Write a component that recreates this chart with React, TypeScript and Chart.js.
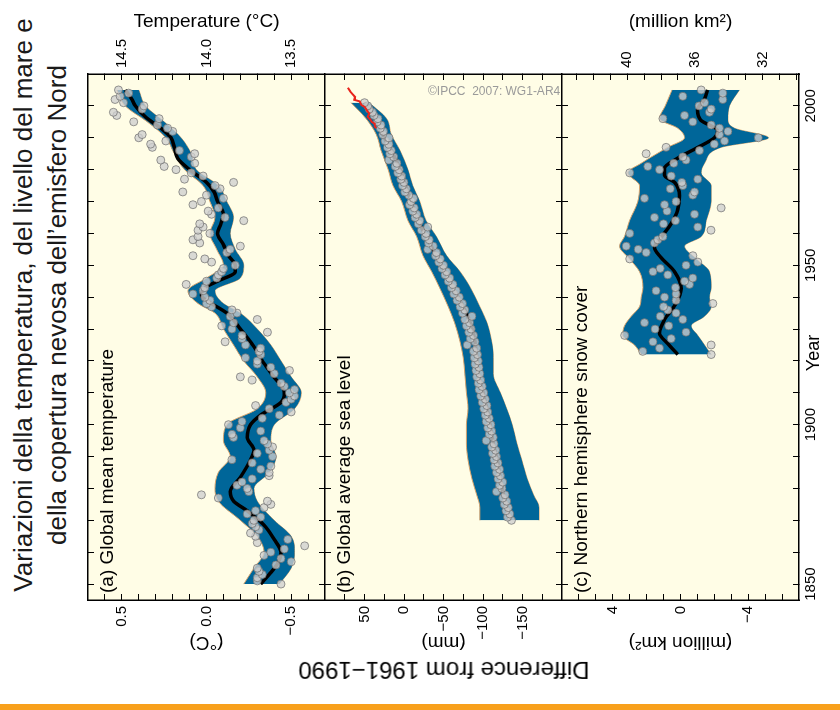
import React, { useEffect, useRef } from "react";
import { Chart, registerables } from "chart.js";

Chart.register(...registerables);

const FONT = '"Liberation Sans", Arial, Helvetica, sans-serif';

// ---------- shared year axis ----------
const yearMin = 1845;
const yearMax = 2010;
const yearTicks = [1850, 1860, 1870, 1880, 1890, 1900, 1910, 1920, 1930, 1940, 1950, 1960, 1970, 1980, 1990, 2000];
const yearLabels = [1850, 1900, 1950, 2000];

// ---------- (a) global mean temperature, anomaly in °C ----------
const tempFirstYear = 1850;
const tempAnomaly = [
  -0.44, -0.30, -0.30, -0.33, -0.31, -0.30, -0.41, -0.50, -0.44, -0.34,
  -0.38, -0.46, -0.58, -0.30, -0.48, -0.29, -0.26, -0.31, -0.29, -0.27,
  -0.28, -0.32, -0.24, -0.29, -0.34, -0.38, -0.36, -0.07, 0.03, -0.25,
  -0.24, -0.18, -0.21, -0.27, -0.37, -0.37, -0.32, -0.38, -0.27, -0.15,
  -0.39, -0.30, -0.37, -0.39, -0.36, -0.34, -0.16, -0.15, -0.32, -0.20,
  -0.13, -0.21, -0.33, -0.43, -0.50, -0.37, -0.29, -0.47, -0.50, -0.52,
  -0.49, -0.52, -0.46, -0.44, -0.27, -0.20, -0.40, -0.49, -0.38, -0.30,
  -0.30, -0.23, -0.32, -0.31, -0.32, -0.23, -0.11, -0.21, -0.21, -0.36,
  -0.15, -0.09, -0.16, -0.30, -0.14, -0.18, -0.15, -0.03, 0.00, -0.02,
  0.01, 0.08, 0.02, 0.01, 0.12, 0.00, -0.06, -0.07, -0.09, -0.10,
  -0.17, -0.03, 0.01, 0.08, -0.12, -0.14, -0.20, 0.04, 0.08, 0.05,
  -0.02, 0.05, 0.02, 0.04, -0.22, -0.11, -0.03, -0.01, -0.07, 0.08,
  0.03, -0.10, 0.00, 0.14, -0.08, -0.05, -0.16, 0.13, 0.02, 0.09,
  0.18, 0.25, 0.07, 0.27, 0.09, 0.07, 0.16, 0.32, 0.33, 0.24,
  0.40, 0.38, 0.20, 0.23, 0.29, 0.43, 0.28, 0.53, 0.55, 0.38,
  0.37, 0.49, 0.54, 0.51, 0.46, 0.52,
];
const tempSmoothYears = [1850, 1853, 1856.5, 1860, 1864, 1868.5, 1873, 1876, 1879, 1883.5, 1889, 1892, 1896, 1900, 1903, 1907, 1910, 1915.5, 1920, 1924.5, 1930, 1935, 1938.5, 1940.5, 1943, 1945, 1948, 1950, 1953, 1956.5, 1960, 1963, 1966, 1970, 1973, 1976, 1980, 1983.5, 1987, 1990, 1993, 1996.5, 2000, 2002, 2005];
const tempSmooth = [-0.32, -0.37, -0.42, -0.44, -0.40, -0.34, -0.24, -0.16, -0.14, -0.20, -0.26, -0.28, -0.24, -0.26, -0.32, -0.44, -0.46, -0.39, -0.33, -0.28, -0.20, -0.12, -0.015, 0.03, 0.01, -0.065, -0.17, -0.17, -0.13, -0.10, -0.065, -0.085, -0.10, -0.065, -0.045, 0.0, 0.10, 0.17, 0.19, 0.21, 0.27, 0.36, 0.42, 0.44, 0.48];
const tempBandYears = [1850, 1855, 1860, 1865, 1870, 1876, 1880, 1885, 1890, 1895, 1900, 1905, 1910, 1915, 1920, 1925, 1930, 1935, 1938, 1942, 1946, 1950, 1955, 1960, 1965, 1970, 1975, 1980, 1985, 1990, 1995, 2000, 2005];
const tempBandHigh = [-0.22, -0.28, -0.34, -0.30, -0.20, -0.07, -0.05, -0.07, -0.14, -0.10, -0.12, -0.30, -0.35, -0.30, -0.22, -0.16, -0.10, -0.05, 0.05, 0.11, 0.00, -0.10, -0.06, -0.02, -0.05, -0.02, 0.02, 0.13, 0.19, 0.24, 0.35, 0.48, 0.53];
const tempBandLow = [-0.43, -0.50, -0.52, -0.50, -0.40, -0.30, -0.28, -0.37, -0.41, -0.38, -0.40, -0.52, -0.56, -0.50, -0.44, -0.38, -0.30, -0.20, -0.10, -0.05, -0.20, -0.22, -0.17, -0.14, -0.16, -0.12, -0.07, 0.06, 0.09, 0.15, 0.25, 0.36, 0.40];
const tempTicks = [-0.6, -0.5, -0.4, -0.3, -0.2, -0.1, 0, 0.1, 0.2, 0.3, 0.4, 0.5, 0.6];
const tempTickLabels = [-0.5, 0, 0.5];
const absTempTicks = [13.4, 13.5, 13.6, 13.7, 13.8, 13.9, 14.0, 14.1, 14.2, 14.3, 14.4, 14.5, 14.6];
const absTempTickLabels = [13.5, 14.0, 14.5];

// ---------- (b) global average sea level, mm ----------
const seaFirstYear = 1870;
const seaLevel = [
  -136, -131, -134, -129, -132, -127, -130, -125, -128, -117,
  -124, -121, -125, -119, -122, -117, -121, -115, -119, -114,
  -117, -112, -116, -111, -114, -104, -113, -108, -111, -106,
  -110, -104, -108, -103, -106, -101, -105, -99, -103, -97,
  -101, -95, -99, -94, -97, -92, -96, -91, -95, -90,
  -94, -89, -93, -88, -92, -80, -90, -84, -88, -82,
  -85, -79, -83, -77, -86, -74, -77, -71, -74, -67,
  -70, -63, -66, -60, -62, -56, -58, -52, -54, -48,
  -50, -44, -46, -40, -41, -30, -37, -31, -32, -27,
  -28, -22, -30, -18, -20, -14, -16, -11, -13, -7,
  -9, -12, -6, -1, -3, 2, 0, 4, 3, 8,
  6, 11, 9, 19, 13, 18, 16, 21, 19, 24,
  19, 27, 26, 30, 29, 34, 33, 38, 40, 44,
  46, 50,
];
const seaSmoothYears = [1870, 1874, 1878, 1883, 1889, 1894, 1900, 1905, 1910, 1916, 1921, 1926, 1932, 1937, 1943, 1948, 1953, 1959, 1964, 1970, 1975, 1980, 1986, 1990, 1995, 2001];
const seaSmooth = [-134, -130, -126, -122, -118, -113, -109, -105, -100, -94, -92, -90, -84, -75, -62, -52, -41, -28, -18, -9, -2, 5, 16, 25, 33, 50];
const seaBandYears = [1870, 1874, 1878, 1883, 1889, 1894, 1900, 1905, 1910, 1916, 1921, 1926, 1932, 1937, 1943, 1948, 1953, 1959, 1964, 1970, 1975, 1980, 1986, 1991, 1996, 2001];
const seaBandHigh = [-96, -96, -92, -86, -81, -79, -79, -81, -79, -77, -75, -71, -64, -56, -45, -35, -24, -16, -5, 3, 14, 20, 29, 35, 48, 67];
const seaBandLow = [-171, -171, -164, -156, -149, -143, -137, -130, -122, -113, -113, -111, -105, -96, -84, -71, -54, -41, -28, -20, -11, -5, 5, 16, 22, 44];
const satYears = [1993, 1993.5, 1994.4, 1995, 1995.5, 1996.6, 1997.6, 1998.2, 1999, 1999.7, 2000.3, 2001.4, 2001.9, 2002.8, 2003.6, 2004.5, 2005.7];
const satLevel = [35, 37, 37, 41, 42, 46, 44, 46, 48, 50, 54, 56, 63, 62, 65, 68, 71];
const seaTicks = [-175, -150, -125, -100, -75, -50, -25, 0, 25, 50, 75];
const seaTickLabels = [-150, -100, -50, 0, 50];

// ---------- (c) northern hemisphere snow cover, million km² ----------
const snowFirstYear = 1922;
const snowCover = [
  -1.81, 2.23, 1.24, -1.81, 1.63, 0.55, 3.30, -0.33, 1.50, 0.70,
  2.13, -0.14, 1.20, 0.26, 0.75, 1.00, -1.91, 0.26, 0.94, 0.26,
  1.44, 0.30, -0.53, -0.24, -0.73, 0.75, 1.63, 1.20, -0.33, -1.02,
  3.00, -0.73, 2.03, 2.50, 3.21, 1.54, 1.34, 1.04, 3.00, -1.80,
  -1.02, 1.00, 0.30, 1.54, -0.83, 0.80, -2.40, 0.94, 0.26, 2.13,
  -0.73, -0.83, 0.60, -0.14, -0.08, -1.02, 0.55, 3.00, 1.24, 1.93,
  0.40, -0.33, -0.14, 2.03, -1.12, 0.85, -2.00, -2.60, -4.60, -2.30,
  -2.80, -2.30, -1.81, -0.73, 1.04, -0.24, -1.71, -1.81, -1.10, -1.42,
  -2.50, -0.14, -2.50, -1.22,
];
const snowSmoothYears = [1922, 1925.4, 1928.7, 1933, 1937.3, 1942.7, 1948, 1952.4, 1955.6, 1958.8, 1963.1, 1967.5, 1971.8, 1976, 1978.2, 1980.4, 1983.6, 1986.9, 1990, 1992.2, 1995.5, 1998.7, 2002, 2005];
const snowSmooth = [0.16, 0.75, 1.24, 0.94, 0.35, -0.04, 0.35, 1.14, 1.54, 1.14, 0.55, 0.16, 0.06, 0.35, 0.94, 0.94, 0.16, -1.0, -2.0, -2.2, -1.2, -1.0, -1.4, -1.6];
const snowBandYears = [1922, 1925, 1928, 1931, 1934, 1937, 1940, 1943, 1948, 1952, 1956, 1959, 1964, 1970, 1975, 1979, 1982, 1987, 1990, 1993, 1996, 2000, 2005];
const snowBandHigh = [2.32, 2.72, 3.41, 3.31, 2.91, 2.42, 2.32, 2.22, 2.42, 3.01, 3.60, 3.31, 3.01, 2.52, 2.42, 3.11, 2.32, 0.75, -0.24, 0.16, 1.24, 0.90, 0.50];
const snowBandLow = [-1.81, -1.42, -1.02, -0.63, -1.42, -1.81, -1.71, -1.81, -1.71, -0.93, -0.24, -1.22, -1.52, -1.81, -1.81, -1.22, -1.42, -2.40, -5.20, -3.19, -2.80, -2.89, -3.48];
const snowTicks = [-6, -5, -4, -3, -2, -1, 0, 1, 2, 3, 4, 5, 6];
const snowTickLabels = [-4, 0, 4];
const snowAbsTicks = [30, 31, 32, 33, 34, 35, 36, 37, 38, 39, 40, 41, 42, 43];
const snowAbsTickLabels = [32, 36, 40];

// ---------- styling ----------
const PLOT_BG = "#FFFDE6";
const BAND = "#006699";
const BAND_EDGE = "rgba(214,160,104,0.95)";
const DOT_FILL = "rgba(206,206,206,0.78)";
const DOT_EDGE = "rgba(105,105,105,0.85)";

const minus = (s: string) => s.replace("-", "\u2212");
const pts = (xs: number[], ys: number[]) => xs.map((x, i) => ({ x, y: ys[i] }));
const annual = (first: number, ys: number[]) => ys.map((y, i) => ({ x: first + i, y }));

const plotBackground = {
  id: "plotBackground",
  beforeDraw(chart: any) {
    const { ctx, chartArea } = chart;
    ctx.save();
    ctx.fillStyle = PLOT_BG;
    ctx.fillRect(chartArea.left, chartArea.top, chartArea.right - chartArea.left, chartArea.bottom - chartArea.top);
    ctx.restore();
  },
};

const panelLabel = {
  id: "panelLabel",
  afterDraw(chart: any, _args: any, opts: any) {
    const { ctx, chartArea } = chart;
    ctx.save();
    ctx.font = `19px ${FONT}`;
    ctx.fillStyle = "#000";
    ctx.textBaseline = "alphabetic";
    ctx.textAlign = "left";
    ctx.fillText(opts.text, chartArea.left + 7, chartArea.top + 25);
    ctx.restore();
  },
};

function panelDatasets(
  first: number, values: number[],
  smoothX: number[], smoothY: number[],
  bandX: number[], bandHi: number[], bandLo: number[],
  extra?: any
) {
  const sets: any[] = [];
  if (extra) sets.push(extra);
  sets.push({
    data: annual(first, values), showLine: false,
    pointRadius: 4, pointBackgroundColor: DOT_FILL, pointBorderColor: DOT_EDGE, pointBorderWidth: 0.8,
  });
  sets.push({
    data: pts(smoothX, smoothY), showLine: true, borderColor: "#000", borderWidth: 3.5,
    pointRadius: 0, cubicInterpolationMode: "monotone", fill: false,
  });
  sets.push({
    data: pts(bandX, bandHi), showLine: true, borderColor: BAND_EDGE, borderWidth: 1,
    backgroundColor: BAND, fill: "+1", pointRadius: 0, cubicInterpolationMode: "monotone",
  });
  sets.push({
    data: pts(bandX, bandLo), showLine: true, borderColor: BAND_EDGE, borderWidth: 1,
    pointRadius: 0, cubicInterpolationMode: "monotone", fill: false,
  });
  return sets;
}

interface AxisSpec {
  min: number; max: number; ticks: number[]; labels: number[];
  fmt: (v: number) => string; title?: string;
}
interface PanelSpec {
  topH: number; bottomH: number; showYears: boolean; label: string;
  left: AxisSpec; right: AxisSpec; datasets: any[];
}

function makeConfig(spec: PanelSpec): any {
  const grid = { drawOnChartArea: false, drawTicks: true, tickLength: -6, color: "#000", lineWidth: 1 };
  const border = { display: true, color: "#000", width: 1.5 };
  const tickFont = { family: FONT, size: 15 };
  const titleFont = { family: FONT, size: 19 };
  const zeroPad = (s: any) => { s.paddingLeft = 0; s.paddingRight = 0; s.paddingTop = 0; s.paddingBottom = 0; };
  const setTicks = (vals: number[]) => (s: any) => { s.ticks = vals.map((value) => ({ value })); };
  const pick = (a: AxisSpec) => (v: number) => (a.labels.some((l) => Math.abs(l - v) < 1e-6) ? a.fmt(v) : "");
  const yearAxis = (position: string, size: number, show: boolean) => ({
    type: "linear", position, min: yearMin, max: yearMax,
    afterBuildTicks: setTicks(yearTicks),
    afterFit: (s: any) => { s.height = size; zeroPad(s); },
    grid, border,
    ticks: {
      display: show, padding: 9, maxRotation: 0, minRotation: 0, autoSkip: false,
      font: tickFont, color: "#000",
      callback: (v: number) => (yearLabels.includes(v) ? String(v) : ""),
    },
  });
  const valueAxis = (position: string, a: AxisSpec, width: number) => ({
    type: "linear", position, min: a.min, max: a.max,
    afterBuildTicks: setTicks(a.ticks),
    afterFit: (s: any) => { s.width = width; zeroPad(s); },
    grid, border,
    ticks: { padding: 12, autoSkip: false, font: tickFont, color: "#000", callback: pick(a) },
    title: a.title
      ? {
          display: true, text: a.title, font: titleFont, color: "#000",
          padding: position === "left" ? { top: 56, bottom: 0 } : { top: 10.6, bottom: 0 },
        }
      : { display: false },
  });
  return {
    type: "scatter",
    data: { datasets: spec.datasets },
    options: {
      responsive: false,
      animation: false,
      events: [],
      layout: { padding: 0, autoPadding: false },
      plugins: {
        legend: { display: false },
        tooltip: { enabled: false },
        panelLabel: { text: spec.label },
      },
      scales: {
        x: yearAxis("bottom", spec.bottomH, spec.showYears),
        x2: yearAxis("top", spec.topH, false),
        y: valueAxis("left", spec.left, 110),
        y2: valueAxis("right", spec.right, 74),
      },
    },
    plugins: [plotBackground, panelLabel],
  };
}

const panelA: PanelSpec = {
  topH: 88, bottomH: 0, showYears: false, label: "(a) Global mean temperature",
  left: { min: -0.7, max: 0.7, ticks: tempTicks, labels: tempTickLabels, fmt: (v) => minus(v.toFixed(1)), title: "(\u00B0C)" },
  right: { min: 13.3, max: 14.7, ticks: absTempTicks, labels: absTempTickLabels, fmt: (v) => v.toFixed(1), title: "Temperature (\u00B0C)" },
  datasets: panelDatasets(tempFirstYear, tempAnomaly, tempSmoothYears, tempSmooth, tempBandYears, tempBandHigh, tempBandLow),
};

const panelB: PanelSpec = {
  topH: 0, bottomH: 0, showYears: false, label: "(b) Global average sea level",
  left: { min: -200, max: 100, ticks: seaTicks, labels: seaTickLabels, fmt: (v) => minus(String(v)), title: "(mm)" },
  right: { min: -200, max: 100, ticks: seaTicks, labels: [], fmt: (v) => String(v) },
  datasets: panelDatasets(seaFirstYear, seaLevel, seaSmoothYears, seaSmooth, seaBandYears, seaBandHigh, seaBandLow, {
    data: pts(satYears, satLevel), showLine: true, borderColor: "#E8241C", borderWidth: 2, pointRadius: 0, fill: false,
  }),
};

const panelC: PanelSpec = {
  topH: 0, bottomH: 41, showYears: true, label: "(c) Northern hemisphere snow cover",
  left: { min: -7, max: 7, ticks: snowTicks, labels: snowTickLabels, fmt: (v) => minus(String(v)), title: "(million km\u00B2)" },
  right: { min: 29.85, max: 43.85, ticks: snowAbsTicks, labels: snowAbsTickLabels, fmt: (v) => String(v), title: "(million km\u00B2)" },
  datasets: panelDatasets(snowFirstYear, snowCover, snowSmoothYears, snowSmooth, snowBandYears, snowBandHigh, snowBandLow),
};

export default function App() {
  const aRef = useRef<HTMLCanvasElement>(null);
  const bRef = useRef<HTMLCanvasElement>(null);
  const cRef = useRef<HTMLCanvasElement>(null);

  useEffect(() => {
    Chart.defaults.font.family = FONT;
    const charts = [
      new Chart(aRef.current as HTMLCanvasElement, makeConfig(panelA)),
      new Chart(bRef.current as HTMLCanvasElement, makeConfig(panelB)),
      new Chart(cRef.current as HTMLCanvasElement, makeConfig(panelC)),
    ];
    return () => charts.forEach((c) => c.destroy());
  }, []);

  const canvasStyle = (top: number): React.CSSProperties => ({ position: "absolute", left: 0, top, display: "block" });

  return (
    <div style={{ position: "absolute", left: 0, top: 0, width: 840, height: 710, overflow: "hidden", background: "#fff", fontFamily: FONT, color: "#000" }}>
      {/* figure laid out upright, then turned a quarter turn counter-clockwise */}
      <div style={{ position: "absolute", left: 65, top: -65, width: 710, height: 840, transform: "rotate(-90deg)" }}>
        <div style={{ position: "absolute", left: 55, top: 6, width: 700, textAlign: "center", fontSize: 26, lineHeight: "34px", color: "#1a1a1a", whiteSpace: "nowrap" }}>
          <div>Variazioni della temperatura, del livello del mare e</div>
          <div>della copertura nevosa dell’emisfero Nord</div>
        </div>
        <canvas ref={aRef} width={710} height={325} style={canvasStyle(0)} />
        <canvas ref={bRef} width={710} height={237} style={canvasStyle(325)} />
        <canvas ref={cRef} width={710} height={278} style={canvasStyle(562)} />
        <div style={{ position: "absolute", left: 40, top: 443.5, transform: "translate(-50%, -50%) rotate(-90deg)", fontSize: 24, lineHeight: 1, whiteSpace: "nowrap" }}>
          Difference from 1961{"\u2212"}1990
        </div>
        <div style={{ position: "absolute", left: 357, top: 804, transform: "translateX(-50%)", fontSize: 18, lineHeight: 1, whiteSpace: "nowrap" }}>
          Year
        </div>
      </div>
      <div style={{ position: "absolute", left: 428, top: 84, fontSize: 12, color: "#9a9a9a", whiteSpace: "pre" }}>
        {"\u00A9IPCC  2007: WG1-AR4"}
      </div>
      <div style={{ position: "absolute", left: 0, top: 704, width: 840, height: 6, background: "#F8A01C" }} />
    </div>
  );
}
